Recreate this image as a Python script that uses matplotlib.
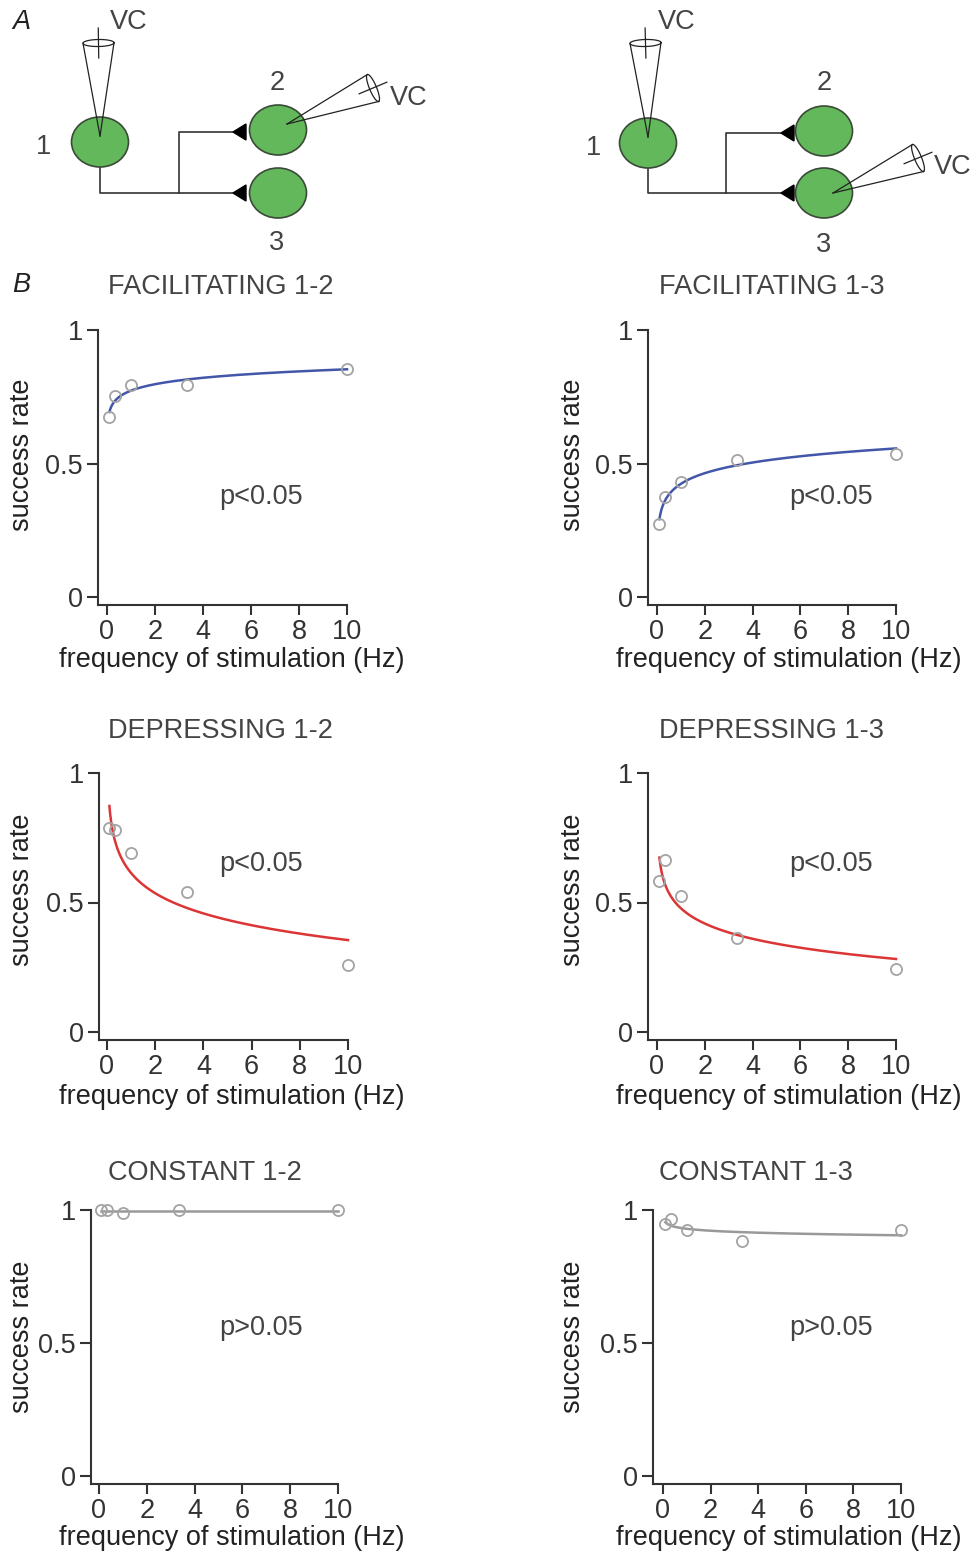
import numpy as np
import matplotlib.pyplot as plt
from matplotlib.patches import Ellipse, Polygon

plt.rcParams['font.family'] = ['Liberation Sans', 'DejaVu Sans']

# stimulation frequencies (Hz) and success rates
freq = [0.1, 0.33, 1, 3.33, 10]
fac12 = [0.673, 0.754, 0.794, 0.794, 0.853]
fac13 = [0.273, 0.373, 0.432, 0.513, 0.534]
dep12 = [0.789, 0.780, 0.690, 0.540, 0.259]
dep13 = [0.584, 0.664, 0.525, 0.364, 0.243]
con12 = [1.0, 1.0, 0.99, 1.0, 1.0]
con13 = [0.946, 0.965, 0.925, 0.885, 0.925]

titles = ['FACILITATING 1-2', 'FACILITATING 1-3', 'DEPRESSING 1-2',
          'DEPRESSING 1-3', 'CONSTANT 1-2', 'CONSTANT 1-3']
pvals = ['p<0.05', 'p<0.05', 'p<0.05', 'p<0.05', 'p>0.05', 'p>0.05']
series = [fac12, fac13, dep12, dep13, con12, con13]
colors = ['#4357aa', '#4357aa', '#dc3535', '#dc3535', '#999999', '#999999']

W, H = 973, 1555
fig = plt.figure(figsize=(W / 100, H / 100), dpi=100)
TXT = '#444444'
FS = 19.5


def fx(px):
    return px / W


def fy(py):
    return 1 - py / H


# ---------- panel A: circuit diagrams ----------
dax = fig.add_axes([0, fy(265), 1, 265 / H])
dax.set_xlim(0, W)
dax.set_ylim(265, 0)
dax.axis('off')

GREEN = '#62b85a'
LC = '#333333'


def cell(x, y):
    dax.add_patch(Ellipse((x, y), 57, 50, fc=GREEN, ec='#3b4a38', lw=1.2, zorder=2))


def pipette(tip, end, hw):
    tip = np.array(tip, float)
    end = np.array(end, float)
    d = (end - tip) / np.linalg.norm(end - tip)
    n = np.array([-d[1], d[0]])
    for s in (1, -1):
        c = end + s * n * hw
        dax.plot([tip[0], c[0]], [tip[1], c[1]], color='#222222', lw=0.9, zorder=3)
    t = np.linspace(0, 2 * np.pi, 80)
    pts = end[:, None] + hw * np.cos(t) * n[:, None] + 3.5 * np.sin(t) * d[:, None]
    dax.plot(pts[0], pts[1], color='#222222', lw=0.9, zorder=3)
    a, b = end - 15 * d, end + 15 * d
    dax.plot([a[0], b[0]], [a[1], b[1]], color='#222222', lw=0.9, zorder=3)


def synapse(x, y):
    dax.add_patch(Polygon([[x, y], [x + 13, y - 8], [x + 13, y + 8]],
                          fc='black', ec='black', zorder=3))


def diagram(c1, c23x, y2, y3, branch_x, tip_x, top_end, side_tip, side_end):
    cell(*c1)
    cell(c23x, y2)
    cell(c23x, y3)
    yb = y3
    dax.plot([c1[0], c1[0], tip_x], [c1[1] + 25, yb, yb], color=LC, lw=1.2, zorder=1)
    dax.plot([branch_x, branch_x, tip_x], [yb, y2 + 2, y2 + 2], color=LC, lw=1.2, zorder=1)
    synapse(tip_x, y2 + 2)
    synapse(tip_x, yb)
    pipette((c1[0], c1[1] - 6), top_end, 15.5)
    pipette(side_tip, side_end, 14.6)


diagram((100, 142), 278, 130, 193, 179, 233, (98.5, 43), (287, 124), (373, 88))
diagram((648, 143), 824, 131, 193, 726, 781, (645.5, 43), (833, 193), (918, 158))

diag_labels = [('1', 43, 147), ('2', 277, 83), ('3', 277, 243),
               ('VC', 129, 22), ('VC', 409, 98),
               ('1', 593, 148), ('2', 824, 83), ('3', 824, 245),
               ('VC', 677, 22), ('VC', 953, 167)]
for s, x, y in diag_labels:
    dax.text(x, y, s, ha='center', va='center', fontsize=FS, color=TXT)

fig.text(fx(12), fy(22), 'A', fontsize=FS, style='italic', color='#222222', va='center')
fig.text(fx(12), fy(285), 'B', fontsize=FS, style='italic', color='#222222', va='center')

# ---------- panel B: success rate vs frequency ----------
# pixel geometry: spine left, x=0, x=10, y=1, y=0, bottom spine
geom = [(98, 107, 347, 330, 597, 605),
        (648, 657, 896, 330, 597, 605),
        (99, 107, 348, 773, 1032, 1040),
        (648, 657, 896, 773, 1032, 1040),
        (91, 99, 338, 1210, 1476, 1484),
        (653, 663, 901, 1210, 1476, 1484)]
title_pos = [(108, 287), (659, 287), (108, 731), (659, 731), (108, 1173), (659, 1173)]
p_pos = [(261, 497), (831, 497), (261, 864), (831, 864), (261, 1328), (831, 1328)]
xlab_pos = [(232, 660), (789, 660), (232, 1097), (789, 1097), (232, 1538), (789, 1538)]
ylab_pos = [(22, 455), (573, 455), (22, 890), (573, 890), (22, 1337), (573, 1337)]

xf = np.geomspace(0.1, 10, 200)
for i, vals in enumerate(series):
    left, x0, x10, y1, y0, bot = geom[i]
    ax = fig.add_axes([fx(left), fy(bot), (x10 - left) / W, (bot - y1) / H])
    sx = (x10 - x0) / 10
    sy = (y0 - y1)
    ax.set_xlim(-(x0 - left) / sx, 10)
    ax.set_ylim(-(bot - y0) / sy, 1)
    for sp in ['top', 'right']:
        ax.spines[sp].set_visible(False)
    for sp in ['left', 'bottom']:
        ax.spines[sp].set_linewidth(1.5)
        ax.spines[sp].set_color('#333333')

    # log-linear fit as in the original
    k, b = np.polyfit(np.log10(freq), vals, 1)
    ax.plot(xf, k * np.log10(xf) + b, color=colors[i], lw=1.8, clip_on=False, zorder=3)
    ax.plot(freq, vals, 'o', mfc='none', mec='#a3a3a3', ms=8, mew=1.3,
            clip_on=False, zorder=4)

    ax.set_xticks([0, 2, 4, 6, 8, 10])
    ax.set_yticks([0, 0.5, 1])
    ax.set_yticklabels(['0', '0.5', '1'])
    ax.tick_params(axis='both', direction='out', width=1.5, color='#333333',
                   labelsize=FS, labelcolor='#333333')
    ax.tick_params(axis='y', length=8, pad=3)
    ax.tick_params(axis='x', length=7, pad=3)

    tx, ty = title_pos[i]
    fig.text(fx(tx), fy(ty), titles[i], fontsize=FS, color=TXT, ha='left', va='center')
    px, py = p_pos[i]
    fig.text(fx(px), fy(py), pvals[i], fontsize=FS, color=TXT, ha='center', va='center')
    lx, ly = xlab_pos[i]
    fig.text(fx(lx), fy(ly), 'frequency of stimulation (Hz)', fontsize=FS,
             color='#222222', ha='center', va='center')
    lx, ly = ylab_pos[i]
    fig.text(fx(lx), fy(ly), 'success rate', fontsize=FS, color='#222222',
             ha='center', va='center', rotation=90)

fig.savefig('out.png', dpi=100)
